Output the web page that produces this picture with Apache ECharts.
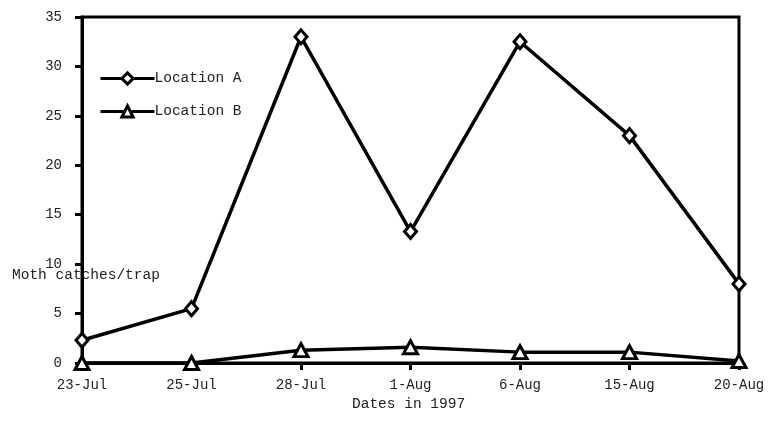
<!DOCTYPE html>
<html><head><meta charset="utf-8">
<script src="https://cdn.jsdelivr.net/npm/echarts@6/dist/echarts.min.js"></script>
<style>html,body{margin:0;padding:0;background:#fff}#c{width:769px;height:438px}</style>
</head><body><div id="c"></div>
<script>
const categories = ['23-Jul','25-Jul','28-Jul','1-Aug','6-Aug','15-Aug','20-Aug'];
const locationA = [2.3, 5.5, 33.0, 13.3, 32.5, 23.0, 8.0];
const locationB = [0, 0, 1.3, 1.6, 1.1, 1.1, 0.2];
const FONT = '"Liberation Mono", "DejaVu Sans Mono", monospace';
const chart = echarts.init(document.getElementById('c'));
chart.setOption({
  animation: false,
  backgroundColor: '#fff',
  grid: {left: 82, right: 30, top: 17, bottom: 75, show: true, borderColor: '#000', borderWidth: 3},
  legend: {
    orient: 'vertical', left: 94, top: 66, itemWidth: 54, itemHeight: 14, itemGap: 18,
    lineStyle: {width: 3, color: '#000'},
    itemStyle: {color: '#fff', borderColor: '#000', borderWidth: 3},
    textStyle: {fontFamily: FONT, fontSize: 14.5, color: '#222', padding: [0, 0, 0, -5]},
    data: ['Location A', 'Location B']
  },
  xAxis: {
    type: 'category', data: categories, boundaryGap: false,
    axisLine: {lineStyle: {color: '#000', width: 3}},
    axisTick: {alignWithLabel: true, length: 7, lineStyle: {color: '#000', width: 3}},
    axisLabel: {fontFamily: FONT, fontSize: 14, color: '#222', margin: 15},
    splitLine: {show: false}
  },
  yAxis: {
    type: 'value', min: 0, max: 35, interval: 5,
    axisLine: {show: true, lineStyle: {color: '#000', width: 3}},
    axisTick: {show: true, length: 7, lineStyle: {color: '#000', width: 3}},
    axisLabel: {fontFamily: FONT, fontSize: 14, color: '#222', margin: 20},
    splitLine: {show: false}
  },
  graphic: [
    {type: 'text', left: 12, top: 268, style: {text: 'Moth catches/trap', font: '14.5px ' + FONT, fill: '#222'}},
    {type: 'text', left: 352, top: 397, style: {text: 'Dates in 1997', font: '14.5px ' + FONT, fill: '#222'}}
  ],
  series: [
    {name: 'Location A', type: 'line', data: locationA, symbol: 'diamond', symbolSize: [12, 14],
     lineStyle: {color: '#000', width: 3.5}, itemStyle: {color: '#fff', borderColor: '#000', borderWidth: 3}, z: 3},
    {name: 'Location B', type: 'line', data: locationB, symbol: 'triangle', symbolSize: [14, 13],
     lineStyle: {color: '#000', width: 3.5}, itemStyle: {color: '#fff', borderColor: '#000', borderWidth: 3}, z: 3}
  ]
});
</script></body></html>
